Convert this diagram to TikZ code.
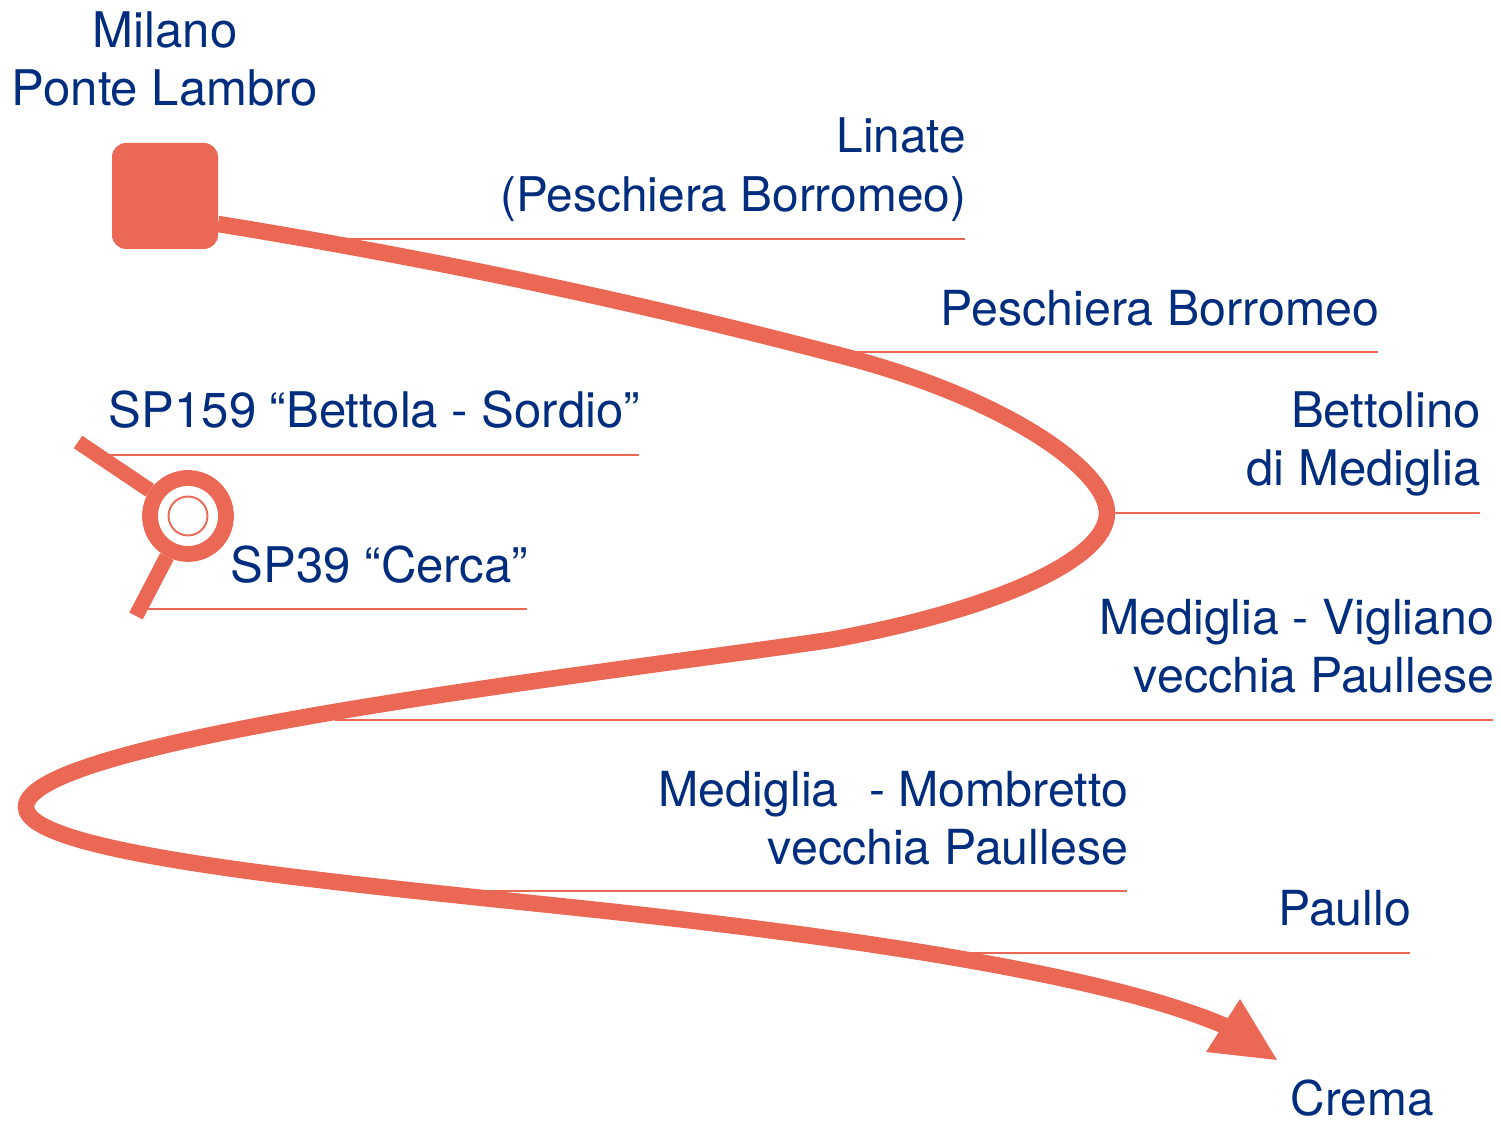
\documentclass[tikz,border=0pt]{standalone}
\usepackage{fontspec}
\setmainfont{TeX Gyre Heros}
\definecolor{routered}{RGB}{235,105,84}
\definecolor{labelblue}{RGB}{0,45,125}
\tikzset{
  place/.style={text=labelblue, font=\fontsize{13.75}{16.6}\selectfont, inner sep=0pt, inner xsep=-0.5pt, align=right},
  place wide/.style={place, font=\fontsize{13.97}{16.6}\selectfont},
  place narrow/.style={place, font=\fontsize{13.6}{16.6}\selectfont},
  rule/.style={draw=routered, line width=0.55pt},
  road/.style={draw=routered, line width=4.7pt},
}
\begin{document}
\begin{tikzpicture}
    \useasboundingbox (0, 0) rectangle (15.01, 11.21);

    % main route
    \node[fill=routered, rounded corners=4pt, minimum size=1.06cm, inner sep=0pt] (start) at (1.65, 9.25) {};
    \coordinate (tip) at (12.77, 0.61);
    \coordinate (neck) at (12.36, 0.9);
    \draw[road] (start.center) ++(0.53, -0.28) coordinate (out)
        .. controls (4.4, 8.61) and (6.5, 8.16) .. (8.5, 7.63)
        .. controls (10.1, 7.2) and (11.07, 6.5) .. (11.07, 6.08)
        .. controls (11.07, 5.6) and (9.9, 5.1) .. (8.3, 4.81)
        .. controls (6, 4.47) and (0.26, 3.82) .. (0.26, 3.14)
        .. controls (0.26, 2.69) and (3, 2.42) .. (5.5, 2.16)
        .. controls (8.5, 1.85) and (11.2, 1.45) .. (neck);
    \fill[routered] (tip) -- (12.40, 1.22) -- (12.06, 0.69) -- cycle;

    % junction
    \node[circle, draw=routered, line width=4.5pt, minimum size=0.76cm, inner sep=0pt] (ring) at (1.88, 6.05) {};
    \node[circle, draw=routered, line width=0.55pt, minimum size=0.39cm, inner sep=0pt] (inner) at (1.88, 6.05) {};
    \coordinate (north) at (0.78, 6.79);
    \coordinate (south) at (1.36, 5.05);
    \draw[road, line width=4.3pt] (north) -- (ring);
    \draw[road, line width=4.3pt] (south) -- (ring);

    % labels
    \node[place wide, align=center] (milano) at (1.65, 10.62) {Milano\\Ponte Lambro};
    \node[place narrow, anchor=south east] (linate) at (9.65, 8.99) {Linate\\(Peschiera Borromeo)};
    \node[place, anchor=south east] (peschiera) at (13.78, 7.94) {Peschiera Borromeo};
    \node[place wide, anchor=south west] (sp159) at (1.1, 6.92) {SP159 “Bettola - Sordio”};
    \node[place wide, anchor=south west] (sp39) at (2.32, 5.37) {SP39 “Cerca”};
    \node[place wide, anchor=south east] (bettolino) at (14.8, 6.24) {Bettolino\\di Mediglia};
    \node[place, anchor=south east] (vigliano) at (14.93, 4.27) {Mediglia - Vigliano\\vecchia Paullese};
    \node[place, anchor=south east] (mombretto) at (11.27, 2.55) {Mediglia\ \ \hspace{1pt}- Mombretto\\vecchia Paullese};
    \node[place, anchor=south east] (paullo) at (14.1, 1.94) {Paullo};
    \node[place narrow, anchor=south west] (crema) at (12.92, 0.04) {Crema};

    % label rules
    \coordinate (linate end) at (3.4, 8.82);
    \coordinate (peschiera end) at (8.47, 7.69);
    \coordinate (sp159 end) at (1.08, 6.66);
    \coordinate (sp39 end) at (1.47, 5.12);
    \coordinate (bettolino end) at (11.1, 6.08);
    \coordinate (vigliano end) at (3.35, 4.01);
    \coordinate (mombretto end) at (4.7, 2.3);
    \coordinate (paullo end) at (9.62, 1.68);
    \draw[rule] (linate end) -- (linate end -| linate.east);
    \draw[rule] (peschiera end) -- (peschiera end -| peschiera.east);
    \draw[rule] (sp159 end) -- (sp159 end -| sp159.east);
    \draw[rule] (sp39 end) -- (sp39 end -| sp39.east);
    \draw[rule] (bettolino end) -- (bettolino end -| bettolino.east);
    \draw[rule] (vigliano end) -- (vigliano end -| vigliano.east);
    \draw[rule] (mombretto end) -- (mombretto end -| mombretto.east);
    \draw[rule] (paullo end) -- (paullo end -| paullo.east);
\end{tikzpicture}
\end{document}
